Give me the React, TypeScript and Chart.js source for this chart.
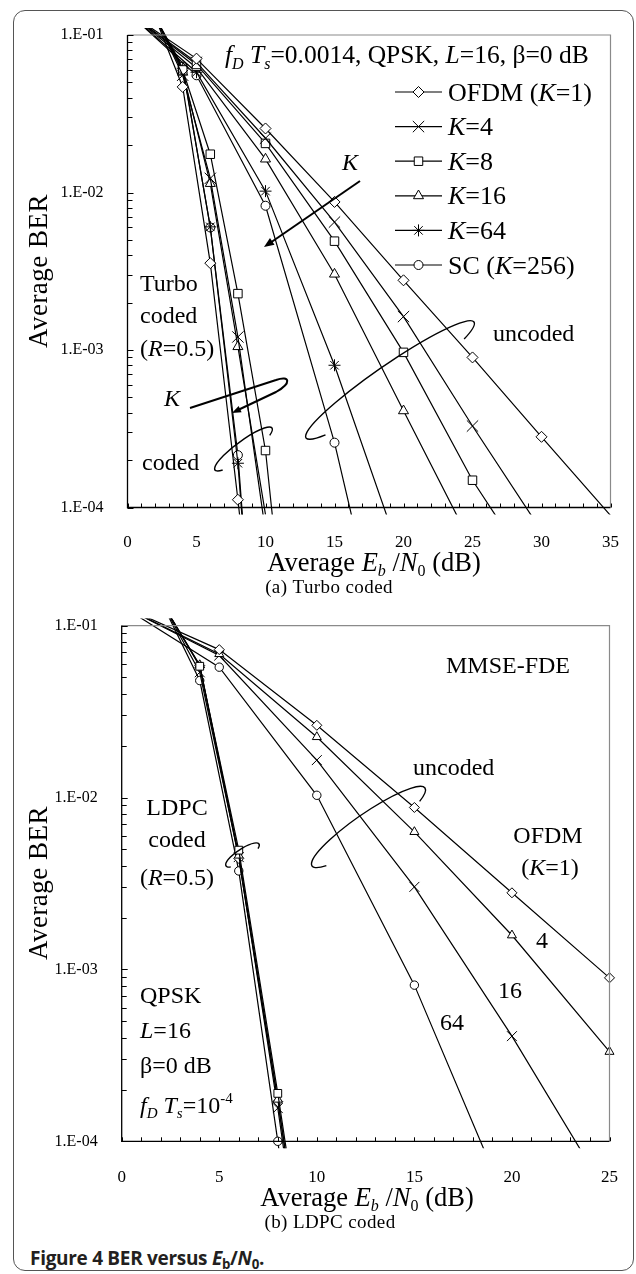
import React, { useEffect, useRef } from 'react';
import { Chart, registerables } from 'chart.js';
import { drawPoint } from 'chart.js/helpers';

Chart.register(...registerables);

const SERIF = '"Liberation Serif", "Times New Roman", serif';

// ---------- (a) Turbo coded, fDTs = 0.0014 ----------
const turboUncodedEbN0 = [0, 5, 10, 15, 20, 25, 30, 35];
const turboUncodedK1 = [0.14, 0.0708, 0.0255, 0.00871, 0.00277, 0.000897, 0.000281, 0.000089];
const turboUncodedK4 = [0.14, 0.067, 0.0221, 0.00649, 0.00163, 0.000329, 0.000071];
const turboUncodedK8 = [0.14, 0.065, 0.0205, 0.00491, 0.000966, 0.000149, 0.000032];
const turboUncodedK16 = [0.14, 0.062, 0.0163, 0.00303, 0.000411, 0.000057];
const turboUncodedK64 = [0.14, 0.058, 0.0102, 0.0008, 0.000044];
const turboUncodedK256 = [0.14, 0.0555, 0.00824, 0.000258, 0.0000035];

const turboCodedEbN0 = [2, 4, 6, 8, 10, 12];
const turboCodedK1 = [0.13, 0.0468, 0.00356, 0.000112, 0.000003];
const turboCodedK4 = [0.13, 0.0555, 0.0123, 0.00121, 0.00007];
const turboCodedK8 = [0.13, 0.06, 0.0175, 0.00228, 0.00023, 0.000005];
const turboCodedK16 = [0.13, 0.058, 0.0114, 0.00105, 0.00009];
const turboCodedK64 = [0.13, 0.0615, 0.00605, 0.000191, 0.000001];
const turboCodedK256 = [0.13, 0.063, 0.006, 0.000215, 0.000001];

// ---------- (b) LDPC coded, fDTs = 1e-4 ----------
const ldpcUncodedEbN0 = [0, 5, 10, 15, 20, 25];
const ldpcUncodedK1 = [0.13, 0.0725, 0.0263, 0.00875, 0.00279, 0.000893];
const ldpcUncodedK4 = [0.13, 0.0684, 0.0225, 0.00631, 0.00158, 0.000332];
const ldpcUncodedK16 = [0.13, 0.067, 0.0165, 0.00302, 0.000409, 0.000047];
const ldpcUncodedK64 = [0.13, 0.0573, 0.0103, 0.00081, 0.000037];

const ldpcCodedEbN0 = [2, 4, 6, 8, 10];
const ldpcCodedK1 = [0.14, 0.0585, 0.00442, 0.00017, 0.000005];
const ldpcCodedK4 = [0.14, 0.059, 0.0046, 0.000175, 0.000005];
const ldpcCodedK8 = [0.14, 0.058, 0.00494, 0.00019, 0.000006];
const ldpcCodedK16 = [0.14, 0.0535, 0.0045, 0.000156, 0.000004];
const ldpcCodedK64 = [0.14, 0.0479, 0.00374, 0.0001, 0.000002];

const yDecades = [1e-4, 1e-3, 1e-2, 1e-1];
const topXTicksMax = 35;
const botXTicksMax = 25;

type Seg = { t: string; i?: boolean; sub?: boolean; sup?: boolean };
const n = (t: string): Seg => ({ t });
const it = (t: string): Seg => ({ t, i: true });
const sb = (t: string, i = false): Seg => ({ t, sub: true, i });
const sp = (t: string): Seg => ({ t, sup: true });

function drawRich(
  ctx: CanvasRenderingContext2D,
  segs: Seg[],
  x: number,
  cy: number,
  size: number,
  align: 'left' | 'center' | 'right' = 'left',
  spacing = 0
) {
  const fnt = (s: Seg) => `${s.i ? 'italic ' : ''}${s.sub || s.sup ? Math.round(size * 0.62) : size}px ${SERIF}`;
  (ctx as any).letterSpacing = spacing + 'px';
  let total = 0;
  const ws = segs.map((s) => {
    ctx.font = fnt(s);
    const w = ctx.measureText(s.t).width;
    total += w;
    return w;
  });
  let cx = align === 'center' ? x - total / 2 : align === 'right' ? x - total : x;
  const base = cy + size * 0.33;
  ctx.textBaseline = 'alphabetic';
  ctx.textAlign = 'left';
  segs.forEach((s, k) => {
    ctx.font = fnt(s);
    const dy = s.sub ? size * 0.2 : s.sup ? -size * 0.42 : 0;
    ctx.fillText(s.t, cx, base + dy);
    cx += ws[k];
  });
  (ctx as any).letterSpacing = '0px';
}

function vTitle(ctx: CanvasRenderingContext2D, text: string, x: number, y: number, size: number) {
  ctx.save();
  ctx.translate(x, y);
  ctx.rotate(-Math.PI / 2);
  ctx.font = `${size}px ${SERIF}`;
  (ctx as any).letterSpacing = '0.5px';
  ctx.textAlign = 'center';
  ctx.textBaseline = 'middle';
  ctx.fillText(text, 0, 0);
  ctx.restore();
}

function drawLoop(ctx: CanvasRenderingContext2D, x1: number, y1: number, x2: number, y2: number, ry: number, ext = 0.6) {
  const cx = (x1 + x2) / 2;
  const cy = (y1 + y2) / 2;
  const rx = Math.hypot(x2 - x1, y2 - y1) / 2;
  const rot = Math.atan2(y2 - y1, x2 - x1);
  ctx.lineWidth = 1.4;
  ctx.beginPath();
  ctx.ellipse(cx, cy, rx, ry, rot, Math.PI - ext, 2 * Math.PI + ext);
  ctx.stroke();
}

function arrowHead(ctx: CanvasRenderingContext2D, fx: number, fy: number, tx: number, ty: number, len = 10, half = 4) {
  const a = Math.atan2(ty - fy, tx - fx);
  ctx.beginPath();
  ctx.moveTo(tx, ty);
  ctx.lineTo(tx - len * Math.cos(a) + half * Math.sin(a), ty - len * Math.sin(a) - half * Math.cos(a));
  ctx.lineTo(tx - len * Math.cos(a) - half * Math.sin(a), ty - len * Math.sin(a) + half * Math.cos(a));
  ctx.closePath();
  ctx.fill();
}

function fmtE(v: number) {
  const e = Math.round(Math.log10(v));
  return '1.E-' + String(-e).padStart(2, '0');
}

function ds(xs: number[], ys: number[], style: string, radius: number) {
  return {
    data: ys.map((y, i) => ({ x: xs[i], y })),
    borderColor: '#000',
    borderWidth: 1.2,
    pointStyle: style,
    pointRadius: radius,
    pointBorderColor: '#000',
    pointBackgroundColor: '#fff',
    pointBorderWidth: 1,
    tension: 0,
    fill: false,
    clip: { left: 0, top: 7, right: 7, bottom: 7 },
  };
}

const framePlugin = {
  id: 'frame',
  afterDatasetsDraw(chart: any) {
    const { ctx, chartArea: a, scales } = chart;
    const xs = scales.x;
    const ys = scales.y;
    ctx.save();
    ctx.strokeStyle = '#8a8a8a';
    ctx.lineWidth = 1.2;
    ctx.beginPath();
    ctx.moveTo(a.left, a.top);
    ctx.lineTo(a.right, a.top);
    ctx.lineTo(a.right, a.bottom);
    ctx.stroke();
    ctx.strokeStyle = '#000';
    ctx.lineWidth = 1.3;
    ctx.beginPath();
    ctx.moveTo(a.left, a.top);
    ctx.lineTo(a.left, a.bottom);
    ctx.lineTo(a.right, a.bottom);
    ctx.stroke();
    ctx.lineWidth = 1;
    ctx.beginPath();
    for (let e = -4; e <= -1; e++) {
      for (let m = 1; m <= 9; m++) {
        const v = m * Math.pow(10, e);
        if (v > 0.1000001) break;
        const py = Math.round(ys.getPixelForValue(v)) + 0.5;
        const len = m === 1 ? 6 : 5;
        ctx.moveTo(a.left, py);
        ctx.lineTo(a.left + len, py);
      }
    }
    for (let v = xs.min; v <= xs.max; v++) {
      const px = Math.round(xs.getPixelForValue(v)) + 0.5;
      ctx.moveTo(px, a.bottom);
      ctx.lineTo(px, a.bottom - 4);
    }
    ctx.stroke();
    ctx.restore();
  },
};

function annot(id: string, offsetY: number, draw: (ctx: CanvasRenderingContext2D) => void) {
  return {
    id,
    afterDatasetsDraw(chart: any) {
      const ctx: CanvasRenderingContext2D = chart.ctx;
      ctx.save();
      ctx.translate(0, -offsetY);
      ctx.fillStyle = '#000';
      ctx.strokeStyle = '#000';
      draw(ctx);
      ctx.restore();
    },
  };
}

const legendEntries: { style: string; r: number; segs: Seg[] }[] = [
  { style: 'rectRot', r: 5.5, segs: [n('OFDM ('), it('K'), n('=1)')] },
  { style: 'crossRot', r: 8, segs: [it('K'), n('=4')] },
  { style: 'rect', r: 6, segs: [it('K'), n('=8')] },
  { style: 'triangle', r: 5.8, segs: [it('K'), n('=16')] },
  { style: 'star', r: 6, segs: [it('K'), n('=64')] },
  { style: 'circle', r: 4.5, segs: [n('SC ('), it('K'), n('=256)')] },
];

const topAnnot = annot('topAnnot', 0, (ctx) => {
  const F = 24;
  drawRich(ctx, [it('f'), sb('D', true), n(' '), it('T'), sb('s', true), n('=0.0014, QPSK, '), it('L'), n('=16, β=0 dB')], 225, 55, 25.5);
  legendEntries.forEach((e, k) => {
    const y = 92 + k * 34.6;
    ctx.lineWidth = 1.2;
    ctx.strokeStyle = '#000';
    ctx.beginPath();
    ctx.moveTo(395, y);
    ctx.lineTo(442, y);
    ctx.stroke();
    ctx.fillStyle = '#fff';
    ctx.lineWidth = 1;
    drawPoint(ctx, { pointStyle: e.style, radius: e.r, rotation: 0, borderWidth: 1 } as any, 418.5, y);
    ctx.fillStyle = '#000';
    drawRich(ctx, e.segs, 448, y, 26);
  });
  // K arrow (uncoded)
  drawRich(ctx, [it('K')], 350, 162, F, 'center');
  ctx.lineWidth = 2;
  ctx.beginPath();
  ctx.moveTo(360, 181);
  ctx.lineTo(270, 243);
  ctx.stroke();
  arrowHead(ctx, 360, 181, 264, 247);
  // Turbo coded label
  drawRich(ctx, [n('Turbo')], 140, 283, F);
  drawRich(ctx, [n('coded')], 140, 315, F);
  drawRich(ctx, [n('('), it('R'), n('=0.5)')], 140, 348, F);
  // K lasso arrow (coded)
  drawRich(ctx, [it('K')], 172, 398, F, 'center');
  ctx.lineWidth = 2;
  ctx.beginPath();
  ctx.moveTo(190, 408);
  ctx.lineTo(276, 380);
  ctx.bezierCurveTo(290, 375, 292, 383, 276, 392);
  ctx.lineTo(238, 410);
  ctx.stroke();
  arrowHead(ctx, 276, 392, 232, 413, 9, 3.5);
  drawRich(ctx, [n('coded')], 142, 462, F);
  drawLoop(ctx, 215, 470, 272, 428, 8);
  drawRich(ctx, [n('uncoded')], 493, 333, F);
  drawLoop(ctx, 306, 438, 474, 322, 15);
  // axis titles
  vTitle(ctx, 'Average BER', 40, 271, 27);
  drawRich(ctx, [n('Average '), it('E'), sb('b', true), n(' /'), it('N'), sb('0'), n(' (dB)')], 374, 562, 26.5, 'center');
  drawRich(ctx, [n('(a) Turbo coded')], 329, 587, 19, 'center', 0.4);
});

const botAnnot = annot('botAnnot', 600, (ctx) => {
  const F = 24;
  drawRich(ctx, [n('MMSE-FDE')], 446, 665, F);
  drawRich(ctx, [n('uncoded')], 413, 767, F);
  drawLoop(ctx, 312, 866, 425, 788, 14);
  drawRich(ctx, [n('LDPC')], 177, 807, F, 'center');
  drawRich(ctx, [n('coded')], 177, 839, F, 'center');
  drawRich(ctx, [n('('), it('R'), n('=0.5)')], 177, 877, F, 'center');
  drawLoop(ctx, 226, 866, 259, 844, 6);
  drawRich(ctx, [n('OFDM')], 548, 835, F, 'center');
  drawRich(ctx, [n('('), it('K'), n('=1)')], 550, 867, F, 'center');
  drawRich(ctx, [n('4')], 536, 940, F);
  drawRich(ctx, [n('16')], 498, 990, F);
  drawRich(ctx, [n('64')], 440, 1022, F);
  drawRich(ctx, [n('QPSK')], 140, 995, F);
  drawRich(ctx, [it('L'), n('=16')], 140, 1030, F);
  drawRich(ctx, [n('β=0 dB')], 140, 1065, F);
  drawRich(ctx, [it('f'), sb('D', true), n(' '), it('T'), sb('s', true), n('=10'), sp('-4')], 140, 1105, F);
  vTitle(ctx, 'Average BER', 40, 883, 27);
  drawRich(ctx, [n('Average '), it('E'), sb('b', true), n(' /'), it('N'), sb('0'), n(' (dB)')], 367, 1197, 26.5, 'center');
  drawRich(ctx, [n('(b) LDPC coded')], 330, 1222, 19, 'center', 0.4);
});

function makeConfig(opts: {
  datasets: any[];
  xMax: number;
  padTop: number;
  padRight: number;
  yWidth: number;
  xHeight: number;
  xLabelPad: number;
  extra: any;
}) {
  return {
    type: 'line',
    data: { datasets: opts.datasets },
    options: {
      animation: false,
      responsive: false,
      devicePixelRatio: 1,
      layout: { padding: { top: opts.padTop, right: opts.padRight, left: 0, bottom: 0 } },
      plugins: { legend: { display: false }, tooltip: { enabled: false } },
      scales: {
        x: {
          type: 'linear',
          min: 0,
          max: opts.xMax,
          ticks: { stepSize: 5, color: '#000', font: { family: SERIF, size: 17 }, padding: opts.xLabelPad, maxRotation: 0 },
          grid: { display: false },
          border: { display: false },
          afterFit: (s: any) => {
            s.height = opts.xHeight;
          },
        },
        y: {
          type: 'logarithmic',
          min: 1e-4,
          max: 0.1,
          afterBuildTicks: (s: any) => {
            s.ticks = yDecades.map((v) => ({ value: v }));
          },
          ticks: { callback: (v: any) => fmtE(Number(v)), color: '#000', font: { family: SERIF, size: 16 }, padding: 16, autoSkip: false },
          grid: { display: false },
          border: { display: false },
          afterFit: (s: any) => {
            s.width = opts.yWidth;
          },
        },
      },
    },
    plugins: [framePlugin, opts.extra],
  } as any;
}

export default function App() {
  const topRef = useRef<HTMLCanvasElement>(null);
  const botRef = useRef<HTMLCanvasElement>(null);

  useEffect(() => {
    const top = new Chart(
      topRef.current!,
      makeConfig({
        datasets: [
          ds(turboUncodedEbN0, turboUncodedK1, 'rectRot', 5.5),
          ds(turboUncodedEbN0, turboUncodedK4, 'crossRot', 8),
          ds(turboUncodedEbN0, turboUncodedK8, 'rect', 6),
          ds(turboUncodedEbN0, turboUncodedK16, 'triangle', 5.8),
          ds(turboUncodedEbN0, turboUncodedK64, 'star', 6),
          ds(turboUncodedEbN0, turboUncodedK256, 'circle', 4.5),
          ds(turboCodedEbN0, turboCodedK1, 'rectRot', 5.5),
          ds(turboCodedEbN0, turboCodedK4, 'crossRot', 8),
          ds(turboCodedEbN0, turboCodedK8, 'rect', 6),
          ds(turboCodedEbN0, turboCodedK16, 'triangle', 5.8),
          ds(turboCodedEbN0, turboCodedK64, 'star', 6),
          ds(turboCodedEbN0, turboCodedK256, 'circle', 4.5),
        ],
        xMax: topXTicksMax,
        padTop: 35,
        padRight: 22,
        yWidth: 127.5,
        xHeight: 92.5,
        xLabelPad: 17,
        extra: topAnnot,
      })
    );
    const bot = new Chart(
      botRef.current!,
      makeConfig({
        datasets: [
          ds(ldpcUncodedEbN0, ldpcUncodedK1, 'rectRot', 5),
          ds(ldpcUncodedEbN0, ldpcUncodedK4, 'triangle', 5.2),
          ds(ldpcUncodedEbN0, ldpcUncodedK16, 'crossRot', 7),
          ds(ldpcUncodedEbN0, ldpcUncodedK64, 'circle', 4.2),
          ds(ldpcCodedEbN0, ldpcCodedK8, 'rect', 5.5),
          ds(ldpcCodedEbN0, ldpcCodedK4, 'triangle', 5.2),
          ds(ldpcCodedEbN0, ldpcCodedK1, 'rectRot', 5),
          ds(ldpcCodedEbN0, ldpcCodedK16, 'crossRot', 7),
          ds(ldpcCodedEbN0, ldpcCodedK64, 'circle', 4.2),
        ],
        xMax: botXTicksMax,
        padTop: 25.3,
        padRight: 19.3,
        yWidth: 121.7,
        xHeight: 98.7,
        xLabelPad: 18,
        extra: botAnnot,
      })
    );
    return () => {
      top.destroy();
      bot.destroy();
    };
  }, []);

  return (
    <div style={{ position: 'absolute', left: 0, top: 0, width: 636, height: 1274, background: '#fff' }}>
      <div
        style={{
          position: 'absolute',
          left: 13,
          top: 10,
          width: 621,
          height: 1261,
          border: '1.5px solid #555',
          borderRadius: 12,
          boxSizing: 'border-box',
        }}
      />
      <canvas ref={topRef} width={636} height={600} style={{ position: 'absolute', left: 0, top: 0, width: 636, height: 600 }} />
      <canvas ref={botRef} width={636} height={640} style={{ position: 'absolute', left: 0, top: 600, width: 636, height: 640 }} />
      <div
        style={{
          position: 'absolute',
          left: 30,
          top: 1246,
          fontFamily: '"Open Sans", "Noto Sans", sans-serif',
          fontWeight: 700,
          fontSize: 19,
          lineHeight: '24px',
          color: '#231f20',
          whiteSpace: 'nowrap',
          letterSpacing: '-0.3px',
        }}
      >
        Figure 4 BER versus <i>E</i>
        <sub style={{ fontSize: '0.7em', verticalAlign: '-0.3em', lineHeight: 0 }}>b</sub>/<i>N</i>
        <sub style={{ fontSize: '0.7em', verticalAlign: '-0.3em', lineHeight: 0 }}>0</sub>.
      </div>
    </div>
  );
}
